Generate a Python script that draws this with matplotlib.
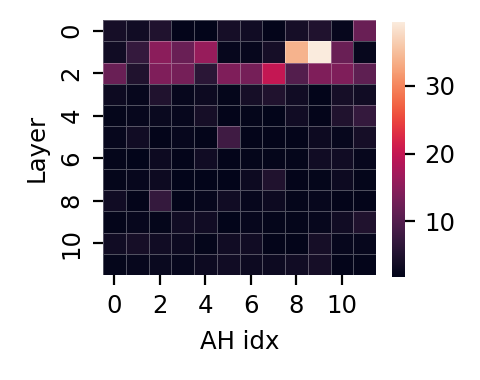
import numpy as np
import matplotlib
matplotlib.use("Agg")
import matplotlib.pyplot as plt
import seaborn as sns

# attention-head scores per layer (rows) and head (cols)
row0 = [4.0, 3.5, 5.0, 2.0, 1.8, 4.0, 3.5, 2.0, 4.0, 5.0, 2.5, 12.0]
row1 = [3.5, 7.0, 15.0, 12.0, 16.0, 2.5, 2.5, 4.0, 34.0, 39.5, 12.0, 2.5]
row2 = [12.0, 5.0, 14.0, 13.0, 6.0, 14.0, 13.0, 20.0, 10.0, 14.0, 14.0, 11.0]
row3 = [3.0, 2.5, 5.0, 2.5, 3.0, 2.2, 4.0, 5.0, 3.5, 1.8, 4.0, 3.5]
row4 = [2.2, 2.5, 2.8, 2.5, 4.0, 2.0, 2.2, 1.8, 3.5, 2.0, 5.0, 7.0]
row5 = [2.5, 3.5, 2.0, 2.5, 2.0, 8.0, 2.0, 2.0, 2.0, 3.0, 2.5, 4.0]
row6 = [2.2, 1.8, 3.0, 2.0, 3.5, 2.0, 2.2, 2.2, 2.2, 3.5, 3.5, 2.5]
row7 = [2.2, 2.5, 3.0, 1.8, 1.8, 1.8, 3.0, 5.0, 2.0, 2.2, 3.0, 2.2]
row8 = [3.5, 2.0, 7.0, 2.0, 2.5, 3.5, 2.5, 3.0, 2.2, 2.5, 2.0, 2.0]
row9 = [2.0, 2.5, 2.2, 3.5, 3.5, 1.8, 2.5, 2.2, 2.2, 2.5, 3.5, 5.0]
row10 = [3.5, 4.0, 3.5, 3.0, 2.2, 3.5, 3.5, 2.0, 2.0, 4.0, 2.5, 2.5]
row11 = [2.2, 2.5, 2.8, 2.5, 3.0, 3.5, 3.0, 3.0, 3.5, 4.0, 2.0, 2.0]

data = np.array([row0, row1, row2, row3, row4, row5,
                 row6, row7, row8, row9, row10, row11])

plt.rcParams['font.size'] = 8.8

fig = plt.figure(figsize=(481 / 200, 380 / 200), dpi=200)
ax = fig.add_axes([103 / 481, 105 / 380, 273 / 481, 255 / 380])
cax = fig.add_axes([392 / 481, 103.3 / 380, 13 / 481, 255 / 380])

sns.heatmap(data, ax=ax, cbar_ax=cax, cmap='rocket',
            xticklabels=2, yticklabels=2,
            linewidths=0.3, linecolor=(1, 1, 1, 0.3))

ax.set_xlabel('AH idx')
ax.set_ylabel('Layer')
ax.tick_params(axis='y', labelrotation=90)

fig.savefig('out.png', dpi=200)
